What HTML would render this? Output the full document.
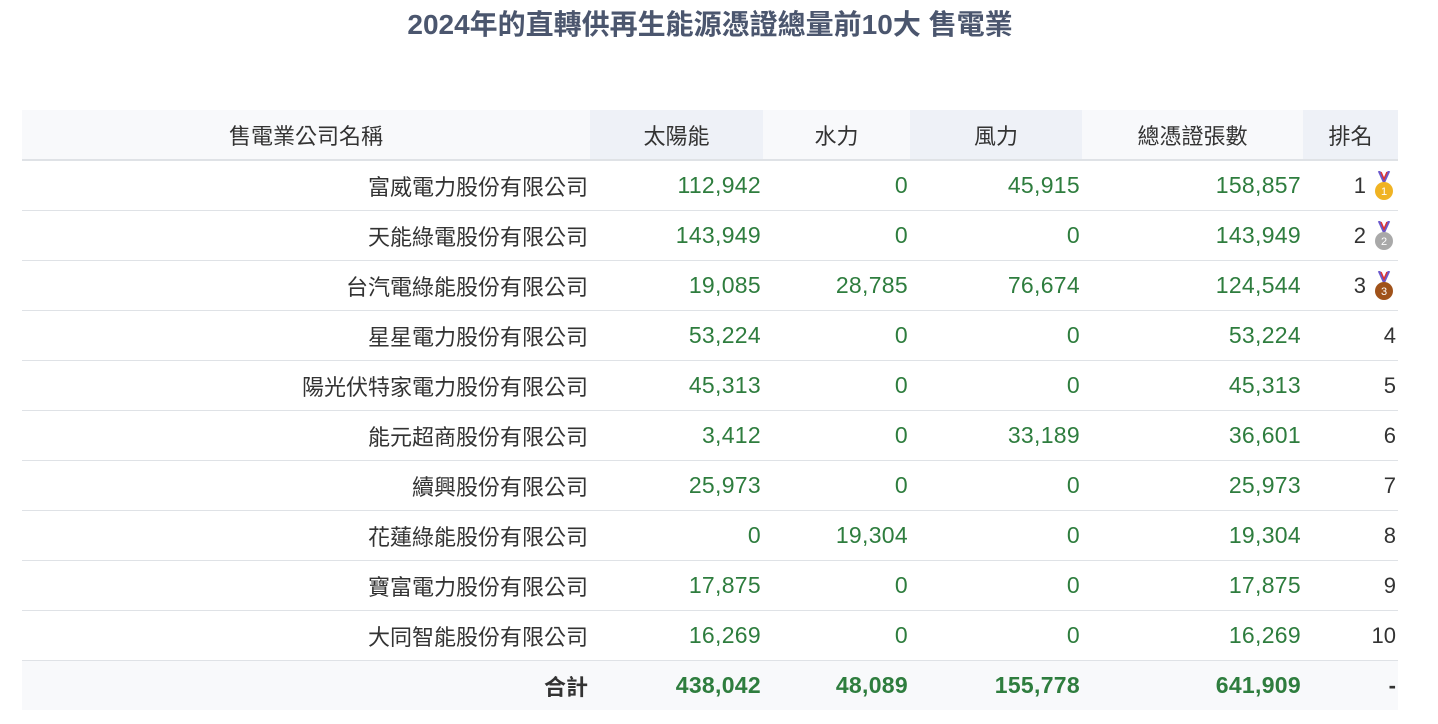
<!DOCTYPE html>
<html><head><meta charset="utf-8"><style>
body{margin:0;width:1438px;height:724px;background:#fff;font-family:"Liberation Sans","Noto Sans CJK TC",sans-serif;overflow:hidden}
h1{position:absolute;left:0;width:1420px;top:6px;margin:0;text-align:center;font-size:28px;font-weight:bold;color:#4b566e;line-height:38px}
table{position:absolute;left:22px;top:110px;border-collapse:collapse;font-size:22px;color:#333}
td,th{height:49px;padding:0 2px 0 0;text-align:right;border-bottom:1px solid #dfe2e6;white-space:nowrap}
th{font-weight:normal;text-align:center;border-bottom:2px solid #dfe2e6;color:#333;padding:0}
th.a{background:#f8f9fb}th.b{background:#eef1f7}
td.g{color:#2e7d3e;font-size:23px;letter-spacing:0.3px}
tr.f td{background:#f8f9fb;font-weight:bold;border-bottom:none}
td.r{position:relative;padding-right:32px}
.m{position:absolute;right:4px;top:10px}
</style></head><body>
<h1>2024年的直轉供再生能源憑證總量前10大 售電業</h1>
<table>
<colgroup><col style="width:568px"><col style="width:173px"><col style="width:147px"><col style="width:172px"><col style="width:221px"><col style="width:95px"></colgroup>
<tr><th class="a">售電業公司名稱</th><th class="b">太陽能</th><th class="a">水力</th><th class="b">風力</th><th class="a">總憑證張數</th><th class="b">排名</th></tr>
<tr><td>富威電力股份有限公司</td><td class="g">112,942</td><td class="g">0</td><td class="g">45,915</td><td class="g">158,857</td><td class="r">1<svg class="m" width="20" height="30" viewBox="0 0 20 30"><path d="M5 0L10 11L15 0" stroke="#6a5acd" stroke-width="2.5" fill="none"/><path d="M7 1L10 8L13 1" stroke="#d33" stroke-width="1.5" fill="none"/><circle cx="10" cy="20" r="9" fill="#f0b323"/><text x="10" y="24" font-size="11" text-anchor="middle" fill="#fff">1</text></svg></td></tr>
<tr><td>天能綠電股份有限公司</td><td class="g">143,949</td><td class="g">0</td><td class="g">0</td><td class="g">143,949</td><td class="r">2<svg class="m" width="20" height="30" viewBox="0 0 20 30"><path d="M5 0L10 11L15 0" stroke="#6a5acd" stroke-width="2.5" fill="none"/><path d="M7 1L10 8L13 1" stroke="#d33" stroke-width="1.5" fill="none"/><circle cx="10" cy="20" r="9" fill="#a9a9a9"/><text x="10" y="24" font-size="11" text-anchor="middle" fill="#fff">2</text></svg></td></tr>
<tr><td>台汽電綠能股份有限公司</td><td class="g">19,085</td><td class="g">28,785</td><td class="g">76,674</td><td class="g">124,544</td><td class="r">3<svg class="m" width="20" height="30" viewBox="0 0 20 30"><path d="M5 0L10 11L15 0" stroke="#6a5acd" stroke-width="2.5" fill="none"/><path d="M7 1L10 8L13 1" stroke="#d33" stroke-width="1.5" fill="none"/><circle cx="10" cy="20" r="9" fill="#a0521a"/><text x="10" y="24" font-size="11" text-anchor="middle" fill="#fff">3</text></svg></td></tr>
<tr><td>星星電力股份有限公司</td><td class="g">53,224</td><td class="g">0</td><td class="g">0</td><td class="g">53,224</td><td>4</td></tr>
<tr><td>陽光伏特家電力股份有限公司</td><td class="g">45,313</td><td class="g">0</td><td class="g">0</td><td class="g">45,313</td><td>5</td></tr>
<tr><td>能元超商股份有限公司</td><td class="g">3,412</td><td class="g">0</td><td class="g">33,189</td><td class="g">36,601</td><td>6</td></tr>
<tr><td>續興股份有限公司</td><td class="g">25,973</td><td class="g">0</td><td class="g">0</td><td class="g">25,973</td><td>7</td></tr>
<tr><td>花蓮綠能股份有限公司</td><td class="g">0</td><td class="g">19,304</td><td class="g">0</td><td class="g">19,304</td><td>8</td></tr>
<tr><td>寶富電力股份有限公司</td><td class="g">17,875</td><td class="g">0</td><td class="g">0</td><td class="g">17,875</td><td>9</td></tr>
<tr><td>大同智能股份有限公司</td><td class="g">16,269</td><td class="g">0</td><td class="g">0</td><td class="g">16,269</td><td>10</td></tr>
<tr class="f"><td>合計</td><td class="g">438,042</td><td class="g">48,089</td><td class="g">155,778</td><td class="g">641,909</td><td>-</td></tr>
</table>
</body></html>
